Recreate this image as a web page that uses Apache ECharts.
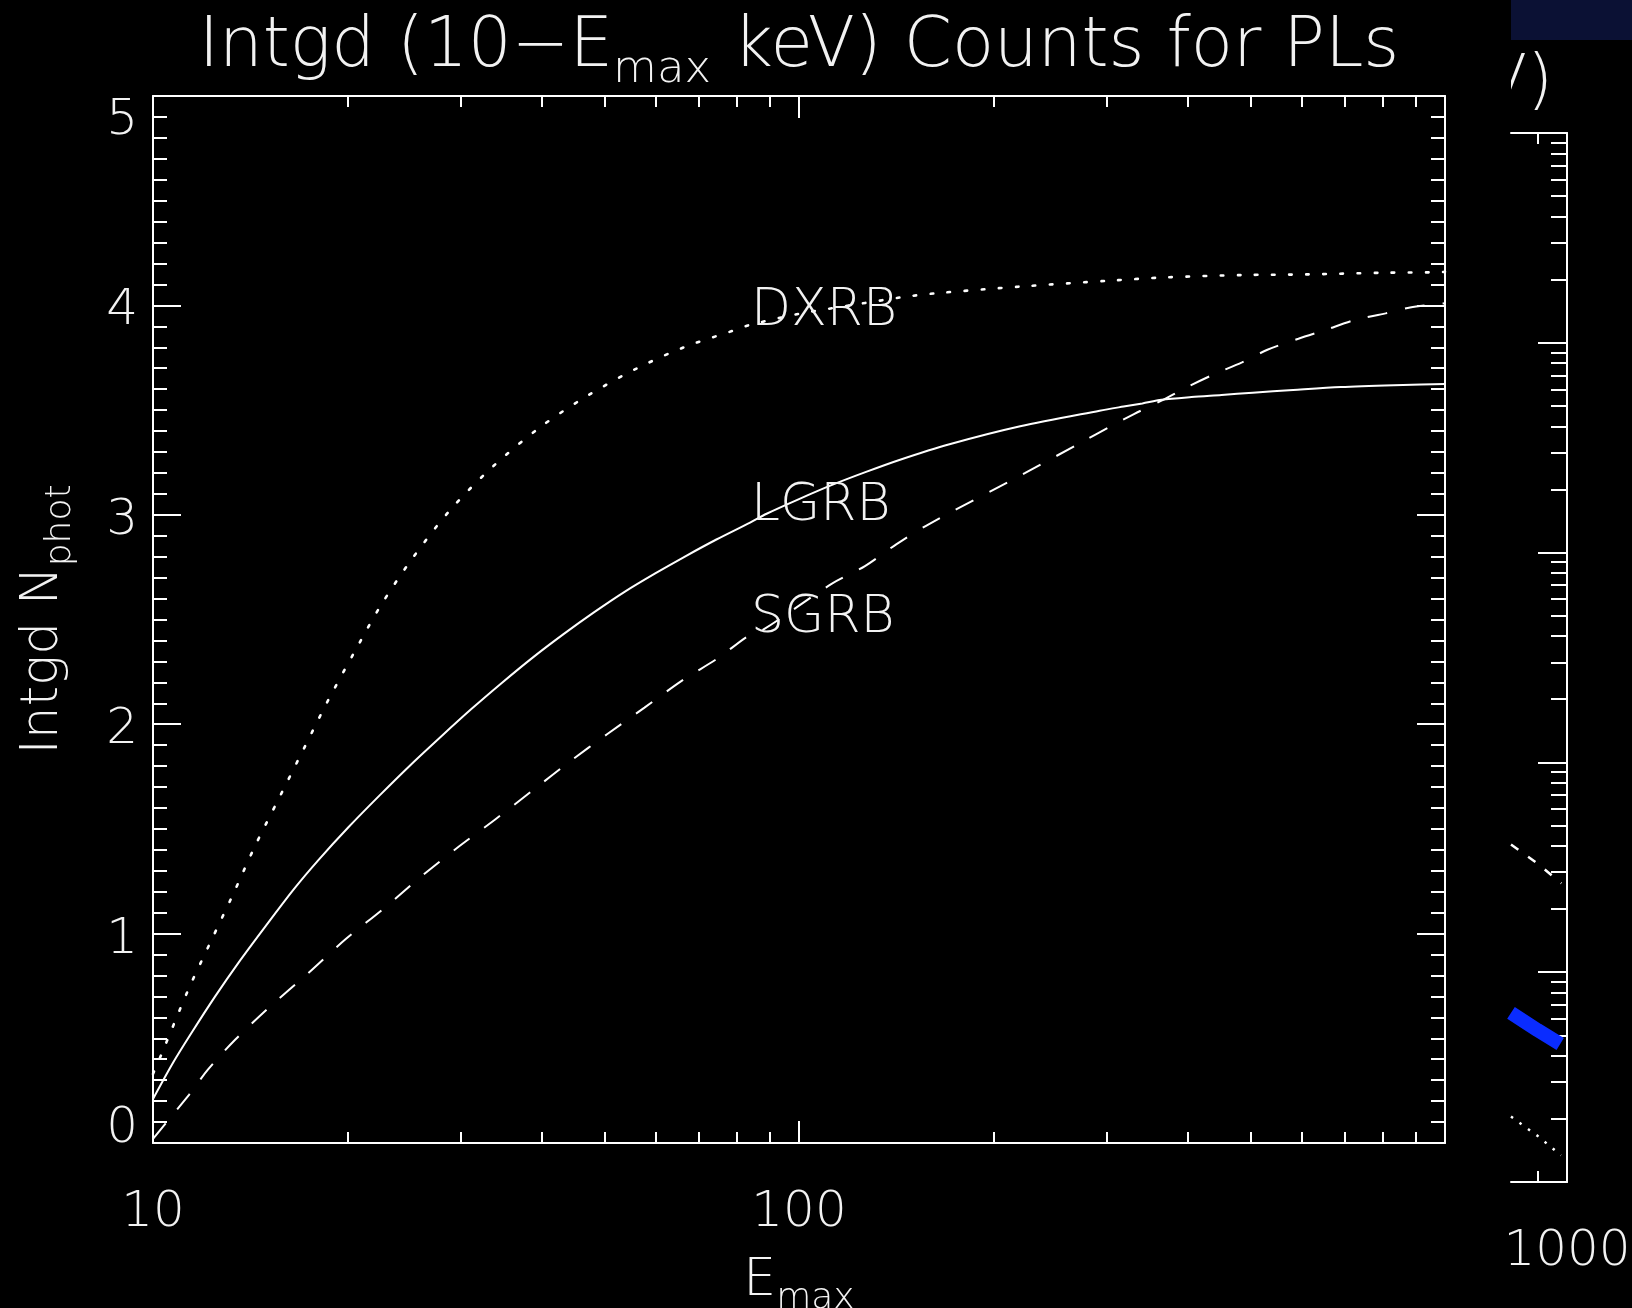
<!DOCTYPE html>
<html>
<head>
<meta charset="utf-8">
<style>
html,body{margin:0;padding:0;background:#000;}
#c{width:1632px;height:1308px;}
</style>
<script src="https://cdn.jsdelivr.net/npm/echarts@6.0.0/dist/echarts.min.js"></script>
</head>
<body>
<div id="c"></div>
<script>
// ---------------- data ----------------
// Main panel: integrated photon counts vs Emax (keV)
const lgrbE = [10, 10.74, 11.5, 12.48, 13.54, 14.9, 16.5, 18.03, 20.1, 22.43, 25.0, 27.9, 31.1, 34.7, 38.7, 43.2, 48.2, 53.7, 59.9, 66.8, 74.5, 84, 89.1, 100, 113, 127, 143, 171, 220, 292, 318, 340, 364, 405, 451, 504, 582, 690, 861, 1000];
const lgrbN = [0.21, 0.383, 0.531, 0.70, 0.858, 1.031, 1.21, 1.351, 1.51, 1.66, 1.803, 1.94, 2.072, 2.198, 2.318, 2.43, 2.535, 2.632, 2.72, 2.803, 2.882, 2.963, 3.005, 3.075, 3.145, 3.205, 3.262, 3.337, 3.423, 3.497, 3.517, 3.532, 3.549, 3.562, 3.572, 3.583, 3.596, 3.61, 3.62, 3.625];

const dxrbE = [10, 10.31, 11.34, 12.26, 13.3, 14.39, 15.69, 17.08, 18.61, 20.44, 22.49, 25.22, 28.83, 33.54, 39.89, 47.3, 56.1, 66.6, 79.2, 83.8, 100, 120, 145, 163, 220, 302, 371, 486, 611, 802, 953, 1000];
const dxrbN = [0.33, 0.425, 0.732, 0.956, 1.187, 1.419, 1.65, 1.877, 2.106, 2.337, 2.564, 2.793, 3.022, 3.229, 3.422, 3.573, 3.699, 3.802, 3.88, 3.906, 3.96, 4.0, 4.04, 4.058, 4.09, 4.118, 4.134, 4.145, 4.148, 4.156, 4.158, 4.16];

const sgrbE = [10, 11.37, 12.16, 13.4, 15.27, 17.36, 19.9, 22.68, 26.0, 29.55, 33.86, 38.71, 44.24, 50.45, 57.65, 65.9, 75.3, 83.1, 87.9, 112.3, 126.5, 141.6, 159, 224, 275, 302, 330, 364, 399, 439, 485, 531, 593, 653, 725, 809, 883, 1000];
const sgrbN = [0.02, 0.23, 0.35, 0.493, 0.659, 0.809, 0.975, 1.116, 1.272, 1.409, 1.545, 1.684, 1.823, 1.952, 2.079, 2.208, 2.32, 2.418, 2.45, 2.67, 2.755, 2.86, 2.956, 3.2, 3.35, 3.419, 3.481, 3.545, 3.61, 3.671, 3.728, 3.788, 3.841, 3.883, 3.93, 3.962, 3.99, 4.01];

// curve annotations (anchor in data coordinates)
const curveLabelNames = ['DXRB', 'LGRB', 'SGRB'];
const curveLabelE = [84.3, 84.3, 84.3];
const curveLabelN = [3.971, 3.040, 2.505];

// main panel axes
const xMin = 10, xMax = 1000;
const xMinorTicks = [20, 30, 40, 50, 60, 70, 80, 90, 200, 300, 400, 500, 600, 700, 800, 900];
const xTickLabels = [10, 100];
const yMin = 0, yMax = 5, yInterval = 1;

// right (partially hidden) panel
const p2xMin = 819, p2xMax = 1000;
const p2yMin = 0.001, p2yMax = 100;
const p2xTickLabels = [1000];
const p2xMinorTicks = [900];
const p2yMinorTicks = [0.002, 0.003, 0.004, 0.005, 0.006, 0.007, 0.008, 0.009,
  0.02, 0.03, 0.04, 0.05, 0.06, 0.07, 0.08, 0.09,
  0.2, 0.3, 0.4, 0.5, 0.6, 0.7, 0.8, 0.9,
  2, 3, 4, 5, 6, 7, 8, 9,
  20, 30, 40, 50, 60, 70, 80, 90];
const p2BlueE = [819, 900, 976];
const p2BlueV = [0.0064, 0.0053, 0.00455];
const p2DashE = [819, 900, 980];
const p2DashV = [0.0406, 0.0330, 0.0265];
const p2DotE = [819, 900, 979];
const p2DotV = [0.00205, 0.00166, 0.00134];

// ---------------- styling ----------------
const FONT = "'DejaVu Sans'";
const FW = 200;
const WHITE = '#ffffff';
const TXT = '#f2f2f2';

function pairs(xs, ys) { return xs.map((x, i) => [x, ys[i]]); }

function subRich(fs, sfs, pad, useFill) {
  const c = useFill ? { fill: TXT } : { color: TXT };
  return {
    a: Object.assign({ fontSize: fs, lineHeight: fs, fontFamily: FONT, fontWeight: FW, padding: [0, 0, pad, 0], verticalAlign: 'bottom' }, c),
    s: Object.assign({ fontSize: sfs, lineHeight: sfs, fontFamily: FONT, fontWeight: FW, verticalAlign: 'bottom' }, c)
  };
}

const yLabelBase = { fontSize: 50, lineHeight: 50, fontFamily: FONT, fontWeight: FW, color: TXT };
const yLabelRich = {
  lo: Object.assign({ padding: [0, 0, 27, 0] }, yLabelBase),
  hi: Object.assign({ padding: [50, 0, 0, 0] }, yLabelBase),
  m: Object.assign({ padding: [12, 0, 0, 0] }, yLabelBase)
};

const axisLineW = { show: true, lineStyle: { color: WHITE, width: 2 } };
const tickStyle = { color: WHITE, width: 2 };

const chart = echarts.init(document.getElementById('c'), null, { renderer: 'canvas' });

const G0 = { left: 153, top: 96, width: 1292, height: 1047 };
const G1 = { left: 1511, top: 133, width: 56, height: 1049 };

const lineBase = { type: 'line', symbol: 'none', showSymbol: false, smooth: 0.3, z: 3 };

const option = {
  backgroundColor: '#000',
  animation: false,
  grid: [
    Object.assign({ containLabel: false, outerBoundsMode: 'none', show: false }, G0),
    Object.assign({ containLabel: false, outerBoundsMode: 'none', show: false }, G1)
  ],
  xAxis: [
    { // 0: main bottom, major ticks + labels + name
      gridIndex: 0, type: 'log', logBase: 10, min: xMin, max: xMax, position: 'bottom',
      axisLine: axisLineW,
      axisTick: { show: true, inside: true, length: 22, lineStyle: tickStyle },
      axisLabel: {
        show: true, customValues: xTickLabels, margin: 45, fontSize: 50, fontFamily: FONT, fontWeight: FW, color: TXT,
        formatter: v => String(Math.round(v))
      },
      splitLine: { show: false }, minorTick: { show: false },
      name: '{a|E}{s|max}', nameLocation: 'middle', nameGap: 122,
      nameTextStyle: { rich: subRich(52, 36, 10, false) }
    },
    { // 1: main bottom minor ticks
      gridIndex: 0, type: 'log', min: xMin, max: xMax, position: 'bottom',
      axisLine: { show: false },
      axisTick: { show: true, inside: true, length: 11, customValues: xMinorTicks, lineStyle: tickStyle },
      axisLabel: { show: false }, splitLine: { show: false }
    },
    { // 2: main top major
      gridIndex: 0, type: 'log', min: xMin, max: xMax, position: 'top',
      axisLine: axisLineW,
      axisTick: { show: true, inside: true, length: 22, lineStyle: tickStyle },
      axisLabel: { show: false }, splitLine: { show: false }
    },
    { // 3: main top minor
      gridIndex: 0, type: 'log', min: xMin, max: xMax, position: 'top',
      axisLine: { show: false },
      axisTick: { show: true, inside: true, length: 11, customValues: xMinorTicks, lineStyle: tickStyle },
      axisLabel: { show: false }, splitLine: { show: false }
    },
    { // 4: right panel bottom
      gridIndex: 1, type: 'log', min: p2xMin, max: p2xMax, position: 'bottom',
      axisLine: axisLineW,
      axisTick: { show: true, inside: true, length: 11, customValues: p2xMinorTicks, lineStyle: tickStyle },
      axisLabel: {
        show: true, customValues: p2xTickLabels, margin: 45, fontSize: 50, fontFamily: FONT, fontWeight: FW, color: TXT,
        formatter: v => String(Math.round(v))
      },
      splitLine: { show: false }
    },
    { // 5: right panel top
      gridIndex: 1, type: 'log', min: p2xMin, max: p2xMax, position: 'top',
      axisLine: axisLineW,
      axisTick: { show: true, inside: true, length: 11, customValues: p2xMinorTicks, lineStyle: tickStyle },
      axisLabel: { show: false }, splitLine: { show: false }
    }
  ],
  yAxis: [
    { // 0: main left
      gridIndex: 0, type: 'value', min: yMin, max: yMax, interval: yInterval, position: 'left',
      axisLine: axisLineW,
      axisTick: { show: true, inside: true, length: 28, lineStyle: tickStyle },
      minorTick: { show: true, splitNumber: 10, length: 14, lineStyle: tickStyle },
      axisLabel: {
        show: true, margin: 15, verticalAlign: 'middle',
        formatter: v => (v === yMin ? '{lo|' + v + '}' : v === yMax ? '{hi|' + v + '}' : '{m|' + v + '}'),
        rich: yLabelRich
      },
      splitLine: { show: false }, minorSplitLine: { show: false },
      name: '{a|Intgd N}{s|phot}', nameLocation: 'middle', nameGap: 74, nameRotate: 90,
      nameTextStyle: { rich: subRich(52, 36, 10, false) }
    },
    { // 1: main right
      gridIndex: 0, type: 'value', min: yMin, max: yMax, interval: yInterval, position: 'right',
      axisLine: axisLineW,
      axisTick: { show: true, inside: true, length: 28, lineStyle: tickStyle },
      minorTick: { show: true, splitNumber: 10, length: 14, lineStyle: tickStyle },
      axisLabel: { show: false }, splitLine: { show: false }
    },
    { // 2: right panel, major (decades)
      gridIndex: 1, type: 'log', min: p2yMin, max: p2yMax, position: 'right',
      axisLine: axisLineW,
      axisTick: { show: true, inside: true, length: 29, lineStyle: tickStyle },
      axisLabel: { show: false }, splitLine: { show: false }
    },
    { // 3: right panel, minor
      gridIndex: 1, type: 'log', min: p2yMin, max: p2yMax, position: 'right',
      axisLine: { show: false },
      axisTick: { show: true, inside: true, length: 16, customValues: p2yMinorTicks, lineStyle: tickStyle },
      axisLabel: { show: false }, splitLine: { show: false }
    }
  ],
  series: [
    Object.assign({}, lineBase, {
      name: 'LGRB', xAxisIndex: 0, yAxisIndex: 0, data: pairs(lgrbE, lgrbN),
      lineStyle: { color: WHITE, width: 2, type: 'solid' }
    }),
    Object.assign({}, lineBase, {
      name: 'DXRB', xAxisIndex: 0, yAxisIndex: 0, data: pairs(dxrbE, dxrbN),
      lineStyle: { color: WHITE, width: 2.6, type: [2.6, 14.5], cap: 'round' }
    }),
    Object.assign({}, lineBase, {
      name: 'SGRB', xAxisIndex: 0, yAxisIndex: 0, data: pairs(sgrbE, sgrbN),
      lineStyle: { color: WHITE, width: 2, type: [20, 18] }
    }),
    Object.assign({}, lineBase, {
      name: 'p2blue', xAxisIndex: 4, yAxisIndex: 2, data: pairs(p2BlueE, p2BlueV), smooth: false,
      lineStyle: { color: '#0a2cff', width: 14, cap: 'butt' }
    }),
    Object.assign({}, lineBase, {
      name: 'p2dash', xAxisIndex: 4, yAxisIndex: 2, data: pairs(p2DashE, p2DashV), smooth: false,
      lineStyle: { color: WHITE, width: 2.5, type: [9, 12] }
    }),
    Object.assign({}, lineBase, {
      name: 'p2dot', xAxisIndex: 4, yAxisIndex: 2, data: pairs(p2DotE, p2DotV), smooth: false,
      lineStyle: { color: WHITE, width: 2.5, type: [2.5, 8] }
    })
  ]
};

chart.setOption(option);

// annotations placed through the chart's own coordinate conversion
const labelGraphics = curveLabelNames.map((name, i) => {
  const p = chart.convertToPixel({ xAxisIndex: 0, yAxisIndex: 0 }, [curveLabelE[i], curveLabelN[i]]);
  return {
    type: 'text', x: p[0], y: p[1], z: 20,
    style: { text: name, fontSize: 52, fontFamily: FONT, fontWeight: FW, fill: TXT, align: 'left', verticalAlign: 'middle' }
  };
});

chart.setOption({
  graphic: [
    // main title (centered over the plot)
    {
      type: 'text', x: G0.left + G0.width / 2, y: 93, z: 20,
      style: {
        text: '{a|Intgd (10\u2212E}{s|max}{a| keV) Counts for PLs}',
        align: 'center', verticalAlign: 'bottom',
        rich: subRich(69, 45, 10, true)
      }
    },
    // end of the neighbouring panel's title, partly covered
    {
      type: 'text', x: 1553, y: 84, z: 20,
      style: { text: 'V)', fontSize: 66, fontFamily: FONT, fontWeight: FW, fill: TXT, align: 'right', verticalAlign: 'middle' }
    },
    { type: 'rect', z: 30, shape: { x: 1448, y: 40, width: 63, height: 92 }, style: { fill: '#000' } },
    { type: 'rect', z: 30, shape: { x: 1511, y: 0, width: 121, height: 40 }, style: { fill: '#0b1134' } }
  ].concat(labelGraphics)
});
</script>
</body>
</html>
